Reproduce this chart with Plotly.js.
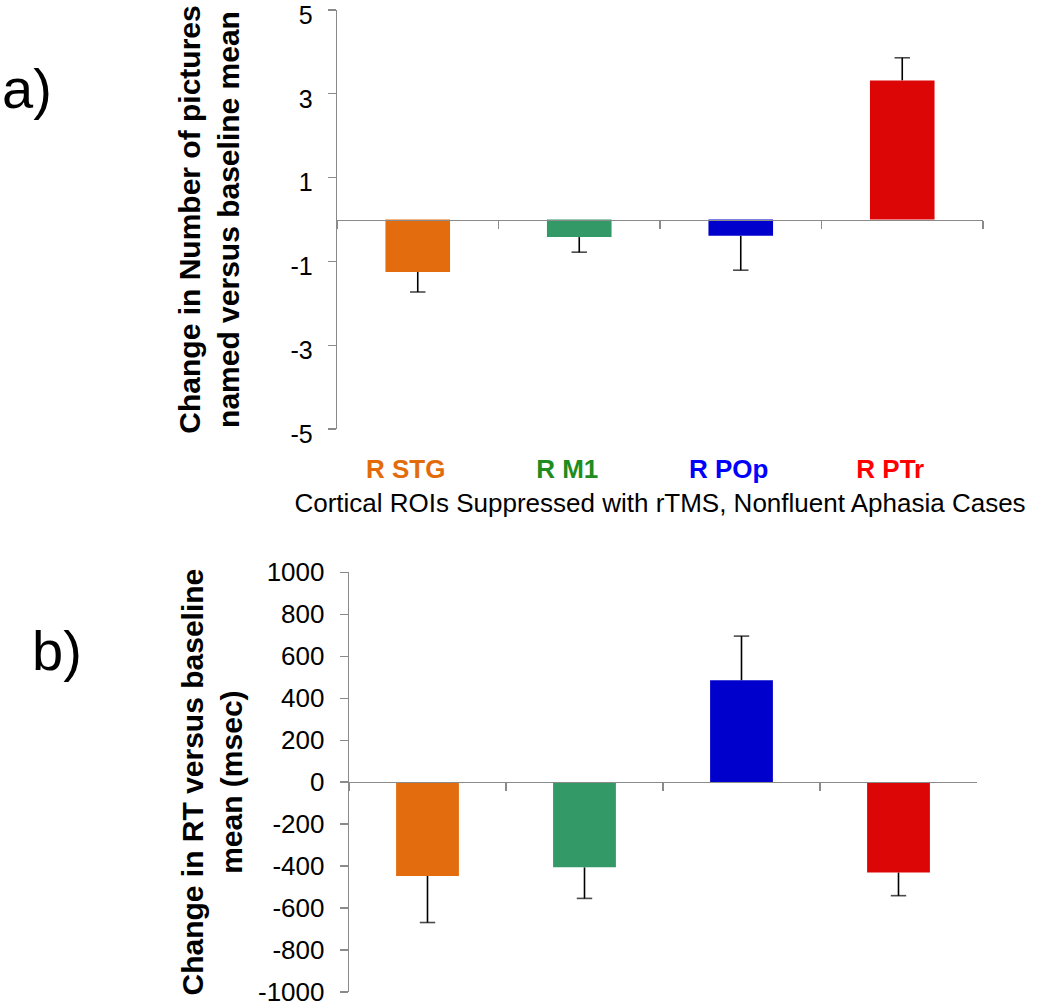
<!DOCTYPE html>
<html>
<head>
<meta charset="utf-8">
<script src="https://cdn.plot.ly/plotly-3.0.1.min.js"></script>
<style>html,body{margin:0;padding:0;background:#fff;}#chart{width:1050px;height:1007px;}</style>
</head>
<body>
<div id="chart"></div>
<script>
// ---- data ----
const categories = ["R STG", "R M1", "R POp", "R PTr"];
const namingChange = [-1.25, -0.42, -0.39, 3.32];      // panel a
const namingErr = [0.48, 0.36, 0.82, 0.54];
const rtChange = [-447, -406, 486, -431];             // panel b (msec)
const rtErr = [222, 148, 210, 110];
const barColors = ["#E36C0E", "#339966", "#0000CC", "#DD0606"];
const labelColors = ["#E36C0A", "#1E8C1E", "#0000FF", "#FF0000"];
const ticksA = [-5, -3, -1, 1, 3, 5];
const ticksB = [-1000, -800, -600, -400, -200, 0, 200, 400, 600, 800, 1000];

const FONT = "Liberation Sans, Arial, sans-serif";

function barTrace(vals, xa, ya) {
  return {
    type: "bar", x: categories, y: vals, xaxis: xa, yaxis: ya,
    marker: {color: barColors, line: {width: 0}},
    hoverinfo: "x+y", showlegend: false
  };
}
// one-sided error whiskers: a line from the bar end outward, capped only at the far end
function whiskerTrace(vals, errs, xa, ya) {
  const xs = [], ys = [], sz = [];
  categories.forEach((c, i) => {
    const end = vals[i] + (vals[i] >= 0 ? errs[i] : -errs[i]);
    xs.push(c, c, null); ys.push(vals[i], end, null); sz.push(0, 11, 0);
  });
  return {
    type: "scatter", mode: "lines+markers", x: xs, y: ys, xaxis: xa, yaxis: ya,
    line: {color: "#000", width: 1.6},
    marker: {symbol: "line-ew", size: sz, color: "#000", line: {color: "#000", width: 1.6}},
    connectgaps: false, hoverinfo: "skip", showlegend: false, cliponaxis: false
  };
}

const data = [
  whiskerTrace(namingChange, namingErr, "x", "y"),
  whiskerTrace(rtChange, rtErr, "x2", "y2"),
  barTrace(namingChange, "x3", "y"),
  barTrace(rtChange, "x4", "y2")
];

const domA = {x: [0.32095, 0.93619], y: [0.57398, 0.99007]};
const domB = {x: [0.33238, 0.93048], y: [0.01490, 0.43168]};
const mid = d => (d[0] + d[1]) / 2;
const catRange = [-0.5, categories.length - 0.5];

const zeroAxis = (dom) => ({
  domain: dom.x, type: "category", anchor: "free", position: mid(dom.y),
  categoryorder: "array", categoryarray: categories,
  range: catRange, showline: true, linecolor: "#8a8a8a", linewidth: 1.3,
  ticks: "outside", tickson: "boundaries", ticklen: 8, tickcolor: "#8a8a8a", tickwidth: 1.3,
  showticklabels: false, showgrid: false, zeroline: false, fixedrange: true
});

const barAxis = (dom, over, ya, labels, title) => ({
  domain: dom.x, type: "category", overlaying: over, anchor: ya, side: "bottom",
  categoryorder: "array", categoryarray: categories,
  range: catRange, showline: false, showgrid: false, zeroline: false, ticks: "",
  showticklabels: labels, tickmode: "array", tickvals: categories,
  ticktext: categories.map((c, i) => '<b><span style="color:' + labelColors[i] + '">' + c + '</span></b>'),
  ticklabelstandoff: 22, ticklabelshift: -12, tickfont: {family: FONT, size: 26},
  title: title ? {text: title, font: {family: FONT, size: 26, color: "#000"}, standoff: 10} : {text: ""},
  fixedrange: true
});

const yAxis = (dom, xa, range, vals, size, shift, title, standoff) => ({
  domain: dom.y, anchor: xa, range: range, tickmode: "array", tickvals: vals,
  ticktext: vals.map(v => String(v)), showline: true, ticklabeloverflow: "allow",
  linecolor: "#8a8a8a", linewidth: 1.3, ticks: "outside", ticklen: 8, tickcolor: "#8a8a8a",
  tickwidth: 1.3, showgrid: false, zeroline: false, ticklabelstandoff: 10, ticklabelshift: shift,
  tickfont: {family: FONT, size: size, color: "#000"},
  title: {text: title, font: {family: FONT, size: 30, color: "#000"}, standoff: standoff},
  fixedrange: true
});

const padA = 0.0001, padB = 0.02;
const layout = {
  width: 1050, height: 1007, margin: {l: 0, r: 0, t: 0, b: 0},
  paper_bgcolor: "#fff", plot_bgcolor: "rgba(0,0,0,0)", bargap: 0.6,
  font: {family: FONT, color: "#000"},
  xaxis: zeroAxis(domA),
  xaxis2: zeroAxis(domB),
  xaxis3: barAxis(domA, "x", "y", true, "Cortical ROIs Suppressed with rTMS, Nonfluent Aphasia Cases"),
  xaxis4: barAxis(domB, "x2", "y2", false, ""),
  yaxis: yAxis(domA, "x", [ticksA[0] - padA, ticksA[ticksA.length - 1] + padA], ticksA, 25, 5,
    "<b>Change in Number of pictures</b><br><b>named versus baseline mean</b>", 42),
  yaxis2: yAxis(domB, "x2", [ticksB[0] - padB, ticksB[ticksB.length - 1] + padB], ticksB, 26, 0,
    "<b>Change in RT versus baseline</b><br><b>mean (msec)</b>", 6),
  annotations: [
    {text: "a)", xref: "paper", yref: "paper", x: 0, y: 1 - 88 / 1007, xanchor: "left", yanchor: "middle",
     showarrow: false, font: {family: FONT, size: 56, color: "#000"}},
    {text: "b)", xref: "paper", yref: "paper", x: 30 / 1050, y: 1 - 650 / 1007, xanchor: "left", yanchor: "middle",
     showarrow: false, font: {family: FONT, size: 56, color: "#000"}}
  ]
};

Plotly.newPlot("chart", data, layout, {displayModeBar: false, staticPlot: true});
</script>
</body>
</html>
